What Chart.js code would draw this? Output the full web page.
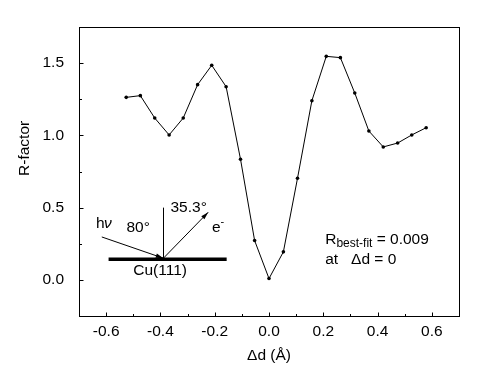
<!DOCTYPE html>
<html><head><meta charset="utf-8">
<script src="https://cdn.jsdelivr.net/npm/chart.js@4"></script>
<style>html,body{margin:0;padding:0;background:#fff}canvas{display:block}</style>
</head><body>
<div style="width:500px;height:375px"><canvas id="c" width="500" height="375"></canvas></div>
<script>
const deltaD = [-0.526,-0.474,-0.421,-0.368,-0.316,-0.263,-0.211,-0.158,-0.105,-0.053,0.000,0.053,0.105,0.158,0.211,0.263,0.316,0.368,0.421,0.474,0.526,0.579];
const rFactor = [1.263,1.275,1.120,1.003,1.120,1.351,1.485,1.337,0.835,0.272,0.009,0.194,0.703,1.240,1.547,1.538,1.293,1.030,0.920,0.947,1.003,1.053];
const xTicks = [-0.6,-0.4,-0.2,0.0,0.2,0.4,0.6];
const xMinorTicks = [-0.5,-0.3,-0.1,0.1,0.3,0.5];
const yTicks = [0.0,0.5,1.0,1.5];
const yMinorTicks = [-0.25,0.25,0.75,1.25];
const xLabel = 'Δd (Å)';
const yLabel = 'R-factor';

const FONT = '"Liberation Sans", Arial, sans-serif';
const FS = 15.5;

const framePlugin = {
  id: 'frame',
  afterDraw(chart) {
    const ctx = chart.ctx, a = chart.chartArea;
    const xs = chart.scales.x, ys = chart.scales.y;
    ctx.save();
    ctx.strokeStyle = '#000';
    ctx.fillStyle = '#000';
    ctx.lineWidth = 1;
    const L = Math.round(a.left) + 0.5, R = Math.round(a.right) + 0.5;
    const T = Math.round(a.top) + 0.5, B = Math.round(a.bottom) + 0.5;
    ctx.strokeRect(L, T, R - L, B - T);
    ctx.beginPath();
    xTicks.forEach(v => { const p = Math.round(xs.getPixelForValue(v)) + 0.5; ctx.moveTo(p, B); ctx.lineTo(p, B - 4); });
    xMinorTicks.forEach(v => { const p = Math.round(xs.getPixelForValue(v)) + 0.5; ctx.moveTo(p, B); ctx.lineTo(p, B - 2.5); });
    yTicks.forEach(v => { const p = Math.round(ys.getPixelForValue(v)) + 0.5; ctx.moveTo(L, p); ctx.lineTo(L + 4, p); });
    yMinorTicks.forEach(v => { const p = Math.round(ys.getPixelForValue(v)) + 0.5; ctx.moveTo(L, p); ctx.lineTo(L + 2.5, p); });
    ctx.stroke();

    // y-axis title (placed off-centre as in the reference)
    ctx.save();
    ctx.font = FS + 'px ' + FONT;
    ctx.textAlign = 'center';
    ctx.textBaseline = 'middle';
    ctx.translate(25, ys.getPixelForValue(0.91));
    ctx.rotate(-Math.PI / 2);
    ctx.fillText(yLabel, 0, 0);
    ctx.restore();

    // inset diagram (positioned in data coordinates)
    const X = v => xs.getPixelForValue(v), Y = v => ys.getPixelForValue(v);
    const cx = X(-0.389), cy = Y(0.143);
    ctx.lineWidth = 3.5;
    ctx.beginPath(); ctx.moveTo(X(-0.591), cy); ctx.lineTo(X(-0.156), cy); ctx.stroke();
    ctx.lineWidth = 1;
    ctx.beginPath(); ctx.moveTo(Math.round(cx)+0.5, cy); ctx.lineTo(Math.round(cx)+0.5, Y(0.50)); ctx.stroke();
    function arrow(x1, y1, x2, y2) {
      ctx.beginPath(); ctx.moveTo(x1, y1); ctx.lineTo(x2, y2); ctx.stroke();
      const ang = Math.atan2(y2 - y1, x2 - x1), len = 8, w = 0.28;
      ctx.beginPath();
      ctx.moveTo(x2, y2);
      ctx.lineTo(x2 - len * Math.cos(ang - w), y2 - len * Math.sin(ang - w));
      ctx.lineTo(x2 - len * Math.cos(ang + w), y2 - len * Math.sin(ang + w));
      ctx.closePath(); ctx.fill();
    }
    arrow(X(-0.616), Y(0.297), cx, cy - 1);
    arrow(cx, cy - 1, X(-0.224), Y(0.468));

    ctx.textBaseline = 'middle';
    ctx.textAlign = 'left';
    ctx.font = FS + 'px ' + FONT;
    ctx.fillText('h', 96, Y(0.39));
    ctx.font = 'italic ' + FS + 'px ' + FONT;
    ctx.fillText('ν', 104, Y(0.39));
    ctx.font = FS + 'px ' + FONT;
    ctx.fillText('80°', X(-0.525), Y(0.36));
    ctx.fillText('35.3°', X(-0.363), Y(0.50));
    ctx.fillText('e', X(-0.210), Y(0.36));
    ctx.font = '11px ' + FONT;
    ctx.fillText('-', X(-0.210) + 8.5, Y(0.40));
    ctx.font = FS + 'px ' + FONT;
    ctx.textAlign = 'center';
    ctx.fillText('Cu(111)', X(-0.401), Y(0.062));

    ctx.textAlign = 'left';
    let tx = X(0.207), ty = Y(0.275);
    ctx.fillText('R', tx, ty);
    tx += ctx.measureText('R').width;
    ctx.font = '12px ' + FONT;
    ctx.fillText('best-fit', tx, ty + 4);
    tx += ctx.measureText('best-fit').width;
    ctx.font = FS + 'px ' + FONT;
    ctx.fillText(' = 0.009', tx, ty);
    ctx.fillText('at   Δd = 0', X(0.207), Y(0.137));
    ctx.restore();
  }
};

new Chart(document.getElementById('c'), {
  type: 'scatter',
  data: {
    datasets: [{
      data: deltaD.map((x, i) => ({ x, y: rFactor[i] })),
      showLine: true,
      borderColor: '#000',
      borderWidth: 1,
      backgroundColor: '#000',
      pointRadius: 1.8,
      pointBorderWidth: 0,
      tension: 0
    }]
  },
  options: {
    responsive: false,
    animation: false,
    devicePixelRatio: 1,
    layout: { padding: { top: 27, right: 41, left: 0, bottom: 0 } },
    plugins: { legend: { display: false }, tooltip: { enabled: false } },
    scales: {
      x: {
        type: 'linear', min: -0.7, max: 0.7,
        afterBuildTicks: s => { s.ticks = xTicks.map(v => ({ value: v })); },
        afterFit: s => { s.height = 59; },
        grid: { display: false, drawTicks: false },
        border: { display: false },
        ticks: { color: '#000', font: { family: FONT, size: FS }, padding: 6, maxRotation: 0,
          callback: v => v.toFixed(1) },
        title: { display: true, text: xLabel, color: '#000', font: { family: FONT, size: FS }, padding: { top: 4, bottom: 10 } }
      },
      y: {
        type: 'linear', min: -0.25, max: 1.75,
        afterBuildTicks: s => { s.ticks = yTicks.map(v => ({ value: v })); },
        afterFit: s => { s.width = 79; },
        grid: { display: false, drawTicks: false },
        border: { display: false },
        ticks: { color: '#000', font: { family: FONT, size: FS }, padding: 15,
          callback: v => v.toFixed(1) },
        title: { display: false }
      }
    }
  },
  plugins: [framePlugin]
});
</script>
</body></html>
